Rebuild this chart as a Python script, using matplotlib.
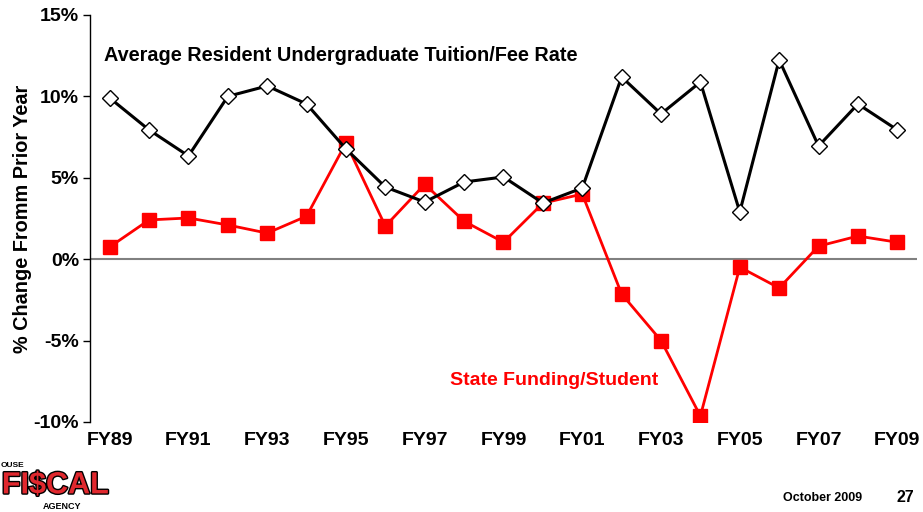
import matplotlib.pyplot as plt
import matplotlib.patheffects as pe

plt.rcParams["font.family"] = ["Liberation Sans", "DejaVu Sans"]
plt.rcParams["font.weight"] = "bold"

years = ["FY89", "FY90", "FY91", "FY92", "FY93", "FY94", "FY95", "FY96", "FY97", "FY98",
         "FY99", "FY00", "FY01", "FY02", "FY03", "FY04", "FY05", "FY06", "FY07", "FY08", "FY09"]
tuition = [9.9, 7.94, 6.34, 10.0, 10.64, 9.53, 6.77, 4.43, 3.51, 4.74,
           5.05, 3.45, 4.37, 11.19, 8.92, 10.88, 2.9, 12.24, 6.95, 9.53, 7.94]
state_funding = [0.75, 2.41, 2.53, 2.1, 1.6, 2.64, 7.14, 2.03, 4.6, 2.33,
                 1.04, 3.44, 4.0, -2.14, -5.0, -9.63, -0.49, -1.77, 0.8, 1.42, 1.04]
yticks = [-10, -5, 0, 5, 10, 15]

fig = plt.figure(figsize=(9.23, 5.12), dpi=100)
ax = fig.add_axes([0.0975, 0.1758, 0.896, 0.795])

x = list(range(len(years)))
ax.axhline(0, color="#808080", lw=1.5, zorder=1)
ax.plot(x, tuition, color="black", lw=2.2, marker="D", markersize=8,
        markerfacecolor="white", markeredgecolor="black", markeredgewidth=1, zorder=3)
ax.plot(x, state_funding, color="#ff0000", lw=2, marker="s", markersize=9.5,
        markerfacecolor="#ff0000", markeredgecolor="#ff0000", zorder=2)

ax.set_xlim(-0.5, 20.5)
ax.set_ylim(-10, 15)
ax.set_yticks(yticks)
ax.set_yticklabels([f"{v}%" for v in yticks], fontsize=14, fontweight="bold")
ax.set_xticks(x[::2])
ax.set_xticklabels(years[::2], fontsize=14, fontweight="bold")
ax.tick_params(axis="x", length=0, pad=7)
ax.tick_params(axis="y", length=5, width=1, direction="out", pad=3)
for side in ["top", "right", "bottom"]:
    ax.spines[side].set_visible(False)
ax.spines["left"].set_linewidth(1)
ax.set_ylabel("% Change Fromm Prior Year", fontsize=14.3, fontweight="bold", labelpad=1)

ax.text(-0.15, 12.48, "Average Resident Undergraduate Tuition/Fee Rate",
        fontsize=14.3, fontweight="bold", va="center")
ax.text(8.63, -7.48, "State Funding/Student", fontsize=14, fontweight="bold",
        color="#ff0000", va="center")

# footer
fig.text(0.848, 0.027, "October 2009", fontsize=9, fontweight="bold", ha="left", va="center")
fig.text(0.971, 0.029, "27", fontsize=11.5, fontweight="bold", ha="left", va="center")

# logo
fig.text(0.001, 0.09, "OUSE", fontsize=6, fontweight="bold", va="center")
logo = fig.text(0.002, 0.052, "FI$CAL", fontsize=22, fontweight="bold", color="#e0282e",
                va="center")
logo.set_path_effects([pe.Stroke(linewidth=2, foreground="black"), pe.Normal()])
fig.text(0.046, 0.002, "AGENCY", fontsize=6.5, fontweight="bold", va="bottom")

fig.savefig("out.png", dpi=100)
